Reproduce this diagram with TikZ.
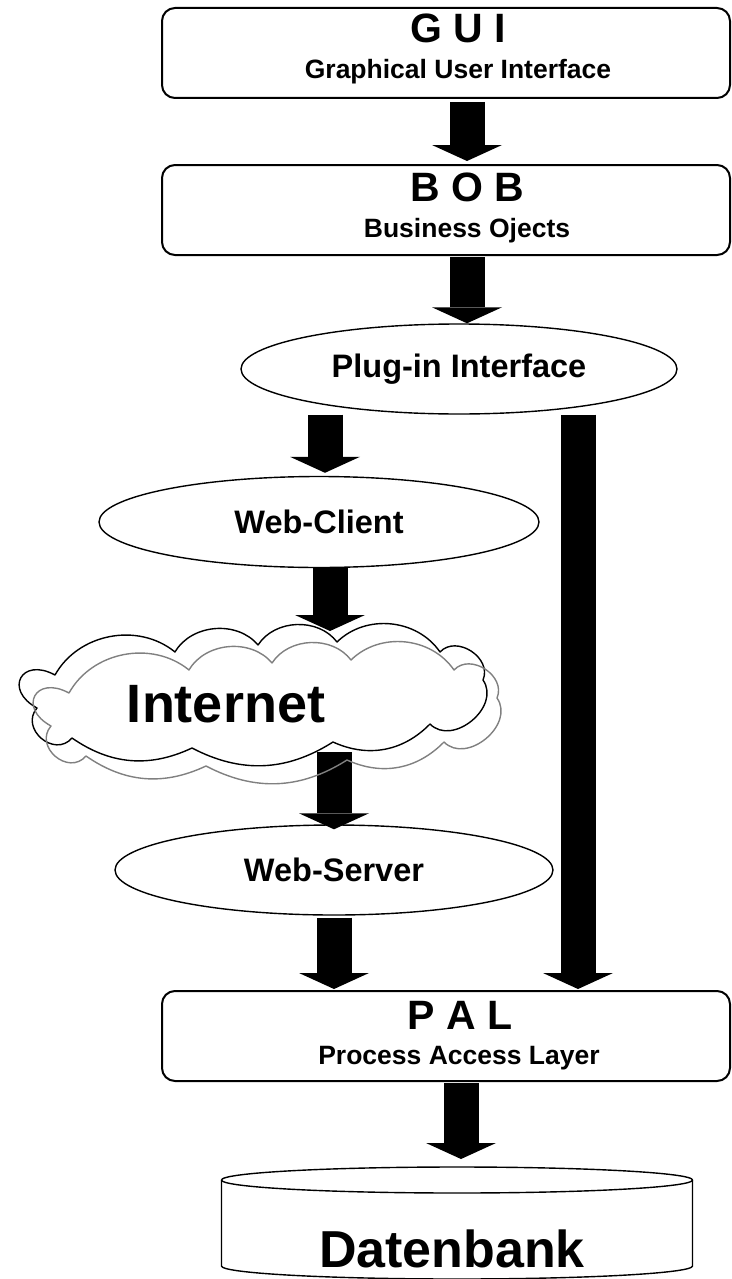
\documentclass[tikz,border=0pt]{standalone}
\usepackage{fontspec}
\setmainfont{Liberation Sans}
\usetikzlibrary{shapes.geometric,arrows.meta}
\tikzset{fluffy/.style={insert path={(37,708) to[bend left=90,looseness=2.6] (55,675) to[bend left=50] (175,652) to[bend left=55] (258,645) to[bend left=55] (337,642) to[bend left=50] (440,652) to[bend left=80,looseness=1.2] (483,680) to[bend left=85,looseness=1.2] (430,724) to[bend left=35] (333,742) to[bend left=30] (192,748) to[bend left=30] (72,738) to[bend left=90,looseness=1.5] (37,708) -- cycle}}}
\begin{document}
\begin{tikzpicture}[x=1pt,y=-1pt,line join=round,
	box/.style={draw,line width=2pt,rounded corners=13pt,minimum width=568pt,minimum height=90pt,inner sep=0pt},
	oval/.style={draw,ellipse,line width=1.4pt,inner sep=0pt,font=\fontsize{32.5}{32.5}\selectfont\bfseries},
	pipe/.style={line width=35pt,-{Triangle[width=70pt,length=16pt,line width=0pt]}},
	ttl/.style={anchor=base,inner sep=0pt,font=\fontsize{41}{41}\selectfont\bfseries},
	sub/.style={anchor=base,inner sep=0pt,font=\fontsize{26.5}{26.5}\selectfont\bfseries}]
				\useasboundingbox (0,0) rectangle (731,1279);
				\node[box] (gui) at (446,53) {};
				\node[ttl] (guiT) at (458,43) {G U I};
				\node[sub] (guiS) at (458,79) {Graphical User Interface};
				\node[box] (bob) at (446,210) {};
				\node[ttl] (bobT) at (467,201) {B O B};
				\node[sub] (bobS) at (467,237) {Business Ojects};
				\node[oval,minimum width=436pt,minimum height=90pt] (plug) at (459,369) {Plug-in Interface};
				\node[oval,minimum width=440pt,minimum height=91pt] (client) at (319,522) {Web-Client};
				\node[oval,minimum width=438pt,minimum height=90pt] (server) at (334,870) {Web-Server};
				\node[box] (pal) at (446,1036) {};
				\node[ttl] (palT) at (460,1029) {P A L};
				\node[sub] (palS) at (459,1064) {Process Access Layer};
				\coordinate (netN) at (330,631);
				\coordinate (netS) at (334,752);
				\coordinate (db) at (457,1167);
				\draw[line width=1.4pt] (457,1180) ellipse [x radius=235.5,y radius=13];
				\draw[line width=1.4pt] (221.5,1180)--(221.5,1266) arc[start angle=180,end angle=0,x radius=235.5,y radius=13]--(692.5,1180);
				\node[anchor=base,inner sep=0pt,font=\fontsize{52}{52}\selectfont\bfseries] (dbT) at (452,1267) {Datenbank};
				\draw[pipe,shorten <=3pt,shorten >=3pt] ([xshift=21pt]gui.south)--([xshift=21pt]bob.north);
				\draw[pipe,shorten <=1pt] ([xshift=21pt]bob.south)--([xshift=21pt]bob.south |- plug.north);
				\draw[pipe,shorten >=3pt] ([xshift=-134pt]plug.south)--([xshift=6pt]client.north);
				\draw[pipe] ([xshift=11pt]client.south)--(netN);
				\draw[pipe,shorten >=-5pt] (netS)--(netS |- server.north);
				\draw[pipe,shorten <=2pt,shorten >=1pt] (server.south)--(server.south |- pal.north);
				\draw[pipe,shorten >=1pt] ([xshift=119pt]plug.south)--([xshift=119pt]plug.south |- pal.north);
				\draw[pipe,shorten <=1pt,shorten >=8pt] ([xshift=15pt]pal.south)--([xshift=4pt]db);
				\draw[line width=1.4pt,fluffy];
				\draw[line width=1.4pt,gray,shift={(14,18)},fluffy];
				\node[anchor=base,inner sep=0pt,font=\fontsize{54}{54}\selectfont\bfseries] (netT) at (226,722) {Internet};
			\end{tikzpicture}
\end{document}
